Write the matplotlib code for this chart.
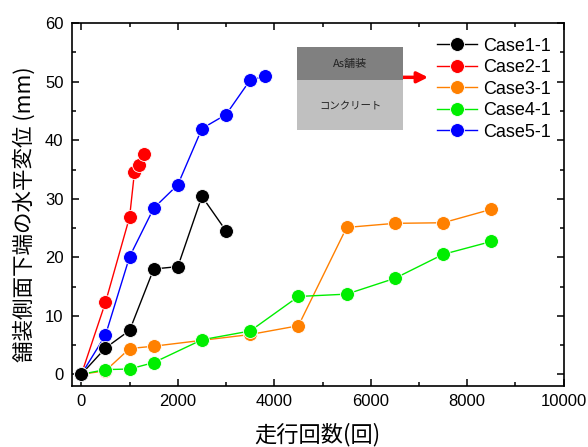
import matplotlib.pyplot as plt
from matplotlib.patches import Rectangle
from matplotlib.ticker import MultipleLocator

plt.rcParams['font.family'] = ['Liberation Sans', 'Noto Sans CJK JP']

# 走行回数と水平変位 (mm)
case1_x = [0, 500, 1000, 1500, 2000, 2500, 3000]
case1_y = [0, 4.5, 7.5, 18.0, 18.4, 30.4, 24.5]
case2_x = [0, 500, 1000, 1100, 1200, 1300]
case2_y = [0, 12.3, 26.9, 34.5, 35.8, 37.7]
case3_x = [0, 500, 1000, 1500, 2500, 3500, 4500, 5500, 6500, 7500, 8500]
case3_y = [0, 0.6, 4.4, 4.8, 5.8, 6.8, 8.3, 25.1, 25.8, 25.9, 28.2]
case4_x = [0, 500, 1000, 1500, 2500, 3500, 4500, 5500, 6500, 7500, 8500]
case4_y = [0, 0.8, 0.9, 2.0, 5.9, 7.4, 13.3, 13.7, 16.4, 20.5, 22.7]
case5_x = [0, 500, 1000, 1500, 2000, 2500, 3000, 3500, 3800]
case5_y = [0, 6.7, 20.1, 28.4, 32.4, 42.0, 44.4, 50.3, 50.9]

labels = ['Case1-1', 'Case2-1', 'Case3-1', 'Case4-1', 'Case5-1']
colors = ['black', '#ff0000', '#ff8000', '#00ee00', '#0000ff']
xs = [case1_x, case2_x, case3_x, case4_x, case5_x]
ys = [case1_y, case2_y, case3_y, case4_y, case5_y]

fig = plt.figure(figsize=(5.88, 4.47), dpi=100)
ax = fig.add_axes([0.122, 0.1365, 0.8367, 0.8115])

for i in range(5):
    z = 10 if i == 0 else 3 + i
    ax.plot(xs[i], ys[i], '-o', color=colors[i], label=labels[i], lw=1.0,
            ms=10, mec='white', mew=0.6, zorder=z)

ax.set_xlim(-200, 10000)
ax.set_ylim(-2, 60)
ax.xaxis.set_major_locator(MultipleLocator(2000))
ax.xaxis.set_minor_locator(MultipleLocator(1000))
ax.yaxis.set_major_locator(MultipleLocator(10))
ax.yaxis.set_minor_locator(MultipleLocator(5))
ax.tick_params(which='both', direction='in', top=True, right=True,
               width=1.1, labelsize=12)
ax.tick_params(which='major', length=5, pad=6)
ax.tick_params(which='minor', length=3)
for s in ax.spines.values():
    s.set_linewidth(1.2)

cjk = ['Noto Sans CJK JP', 'Liberation Sans']
ax.set_xlabel('走行回数(回)', family=cjk, fontsize=16)
ax.set_ylabel('舗装側面下端の水平変位 (mm)', family=cjk, fontsize=15.5)
ax.xaxis.set_label_coords(0.5, -0.1)
ax.yaxis.set_label_coords(-0.074, 0.474)

ax.legend(loc='upper right', bbox_to_anchor=(1.0, 0.995), frameon=False,
          fontsize=13, handlelength=2.2, handletextpad=0.35,
          labelspacing=0.25, borderaxespad=0.3)

# 断面図 (As舗装 / コンクリート)
fig.add_artist(Rectangle((0.5046, 0.821), 0.1813, 0.0745,
                         transform=fig.transFigure, color='#808080', lw=0))
fig.add_artist(Rectangle((0.5046, 0.709), 0.1813, 0.112,
                         transform=fig.transFigure, color='#c0c0c0', lw=0))
fig.text(0.5953, 0.857, 'As舗装', family=cjk, fontsize=8, color='#222222',
         ha='center', va='center')
fig.text(0.5953, 0.765, 'コンクリート', family=cjk, fontsize=7.5, color='#222222',
         ha='center', va='center')
ax.annotate('', xy=(0.728, 0.827), xytext=(0.685, 0.827),
            xycoords='figure fraction', textcoords='figure fraction',
            arrowprops=dict(arrowstyle='-|>', color='red', lw=2.5,
                            mutation_scale=16, shrinkA=0, shrinkB=0))

fig.savefig('out.png', dpi=100)
